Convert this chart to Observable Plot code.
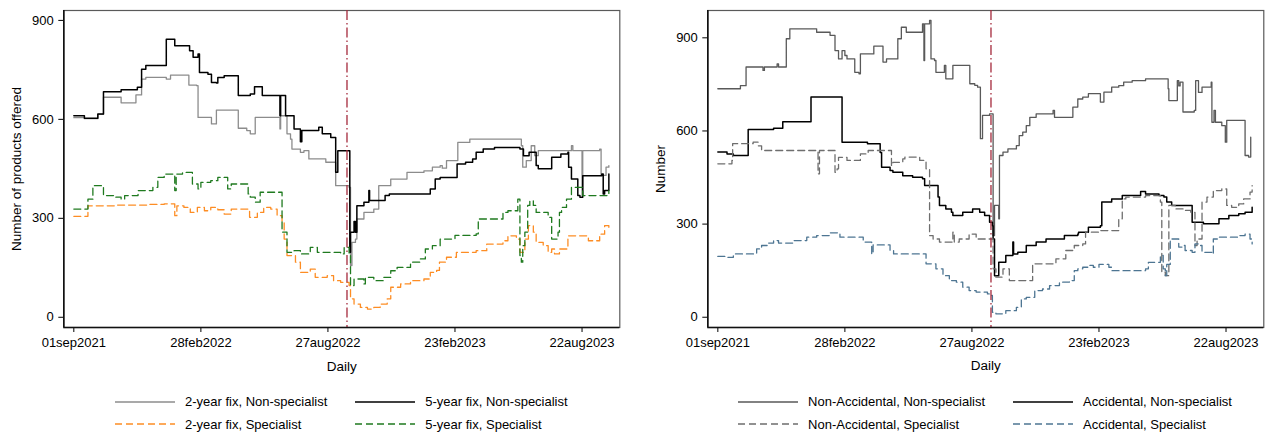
<!DOCTYPE html>
<html>
<head>
<meta charset="utf-8">
<script src="https://cdn.jsdelivr.net/npm/d3@7"></script>
<script src="https://cdn.jsdelivr.net/npm/@observablehq/plot@0.6"></script>
<style>
  html, body { margin: 0; padding: 0; background: #fff; }
  #fig { position: relative; width: 1267px; height: 436px; overflow: hidden;
         font-family: "Liberation Sans", Arial, sans-serif; color: #000; }
  .panel { position: absolute; top: 0; }
  .legend { position: absolute; display: flex; justify-content: center; }
  .legend .grid { display: grid; grid-template-columns: auto auto; column-gap: 28px;
                  grid-auto-rows: 22.5px; align-items: center; }
  .legend .item { display: flex; align-items: center; font-size: 13px; white-space: nowrap; }
  .legend svg { margin-right: 10px; }
</style>
</head>
<body>
<div id="fig"></div>
<script>
// Daily series are stored as [day, value] pairs, where day counts from periodStart.
const periodStart = "2021-09-01";
const eventDate = "2022-09-23";

// Tick marks on both panels
const xTickDates = ["2021-09-01", "2022-02-28", "2022-08-27", "2023-02-23", "2023-08-22"];
const xTickLabels = ["01sep2021", "28feb2022", "27aug2022", "23feb2023", "22aug2023"];
const yTicks = [0, 300, 600, 900];

// ---- Panel 1: products by fixed-rate term and lender type ----
const twoYearNonSpec = [[0,605],[15,602],[34,615],[42,667],[67,650],[88,674],[96,722],[102,727],[131,722],[137,734],[163,704],[174,702],[176,606],[195,586],[202,628],[233,573],[245,566],[250,556],[257,606],[292,571],[293,611],[302,556],[307,540],[309,510],[321,500],[326,505],[333,480],[357,470],[371,399],[390,394],[392,157],[394,227],[399,237],[401,298],[411,318],[425,328],[432,399],[449,419],[472,439],[496,444],[508,455],[519,460],[522,452],[528,475],[544,530],[561,540],[629,540],[634,520],[636,455],[641,475],[648,520],[653,490],[658,505],[677,505],[705,520],[707,505],[720,369],[721,505],[745,510],[747,430],[754,455],[758,460]];

const fiveYearNonSpec = [[0,611],[15,603],[34,616],[42,684],[67,690],[90,697],[96,752],[102,763],[131,843],[143,823],[164,808],[169,788],[176,798],[178,742],[190,737],[195,712],[202,710],[204,727],[213,732],[233,672],[250,677],[256,699],[267,672],[292,611],[293,672],[300,611],[312,571],[321,532],[323,566],[347,576],[352,556],[364,545],[371,440],[374,505],[391,197],[392,258],[397,290],[399,258],[401,338],[411,349],[418,384],[419,354],[441,369],[447,374],[505,389],[512,419],[519,424],[543,465],[555,470],[565,480],[570,500],[580,510],[596,515],[632,510],[637,490],[645,500],[655,460],[658,450],[677,485],[690,495],[700,500],[701,455],[705,419],[714,369],[717,364],[721,429],[748,434],[750,374],[752,384],[758,434]];

const twoYearSpec = [[0,306],[20,338],[58,340],[104,342],[128,344],[143,308],[146,338],[156,333],[165,318],[175,333],[185,323],[194,333],[204,326],[213,313],[223,328],[249,303],[260,318],[269,333],[279,328],[288,308],[295,288],[298,237],[302,187],[314,167],[321,136],[335,146],[342,121],[359,126],[368,111],[378,106],[390,96],[392,56],[397,40],[406,30],[416,25],[425,30],[434,40],[444,56],[449,91],[463,101],[477,111],[496,116],[505,136],[514,142],[518,167],[528,182],[542,197],[570,202],[585,222],[608,232],[615,247],[627,237],[632,197],[639,237],[644,278],[651,258],[655,227],[665,217],[672,197],[677,207],[681,192],[688,207],[700,247],[729,232],[745,252],[752,278],[758,263]];

const fiveYearSpec = [[0,328],[20,358],[27,399],[42,369],[58,364],[67,358],[72,369],[91,384],[112,394],[119,424],[128,434],[143,384],[145,434],[154,439],[168,404],[176,389],[180,409],[194,414],[204,424],[218,389],[223,404],[247,374],[250,364],[257,349],[264,379],[295,258],[302,197],[312,202],[321,192],[335,212],[345,197],[378,192],[383,212],[390,187],[392,96],[397,116],[411,101],[413,121],[425,111],[439,121],[449,141],[458,151],[477,167],[491,177],[498,207],[508,217],[519,237],[540,248],[570,253],[573,298],[608,318],[615,323],[629,358],[632,187],[634,167],[636,217],[639,258],[643,339],[646,353],[651,339],[655,318],[672,303],[677,237],[686,258],[688,318],[691,333],[698,358],[705,394],[721,369],[748,369],[758,384]];

// ---- Panel 2: products by accidental / non-accidental lender and lender type ----
const nonAccNonSpec = [[0,736],[32,746],[40,806],[64,795],[66,806],[84,816],[86,806],[97,897],[102,929],[140,918],[159,908],[166,859],[171,832],[176,859],[180,843],[183,832],[194,789],[200,784],[202,848],[221,873],[234,822],[239,832],[255,897],[260,934],[267,918],[290,945],[292,827],[293,945],[300,956],[302,832],[307,827],[309,789],[321,811],[323,768],[333,811],[357,752],[364,747],[368,741],[372,575],[375,650],[385,655],[390,263],[392,360],[398,317],[399,521],[404,532],[411,542],[423,553],[427,585],[432,596],[437,617],[442,644],[451,655],[475,666],[477,644],[503,677],[510,703],[517,709],[525,720],[542,693],[547,725],[558,741],[568,746],[575,757],[587,762],[606,768],[636,768],[638,736],[639,698],[651,762],[653,745],[655,757],[659,661],[675,666],[677,762],[681,724],[686,741],[699,757],[700,628],[703,666],[705,628],[714,617],[719,564],[721,634],[745,634],[747,521],[752,516],[755,580]];

const accNonSpec = [[0,532],[13,526],[22,521],[43,605],[79,609],[92,630],[132,709],[176,564],[212,559],[230,531],[232,483],[244,473],[248,467],[262,456],[276,451],[290,446],[293,424],[312,387],[314,360],[323,349],[331,338],[333,328],[347,338],[361,349],[371,338],[378,328],[385,306],[389,295],[390,252],[392,134],[398,177],[408,199],[418,242],[419,204],[425,209],[437,231],[451,242],[465,252],[491,263],[510,268],[511,274],[525,290],[542,295],[544,371],[558,381],[573,392],[599,405],[606,397],[625,392],[632,387],[636,371],[643,360],[667,360],[672,306],[688,301],[710,317],[724,328],[738,333],[747,338],[757,354]];

const nonAccSpec = [[0,494],[20,505],[21,559],[50,564],[57,552],[62,537],[140,537],[142,462],[144,537],[166,467],[169,478],[171,515],[183,505],[202,526],[213,537],[246,489],[248,499],[262,510],[265,516],[286,505],[295,478],[300,263],[305,252],[314,242],[333,274],[335,242],[342,252],[356,268],[366,252],[389,252],[390,156],[394,129],[404,156],[413,118],[446,172],[479,188],[493,215],[505,231],[517,236],[521,274],[542,279],[568,317],[573,381],[578,387],[606,392],[627,371],[629,145],[634,134],[639,360],[648,349],[662,344],[670,338],[676,231],[679,252],[686,371],[693,387],[702,408],[714,413],[721,360],[728,354],[738,365],[745,381],[754,403],[757,424]];

const accSpec = [[0,196],[13,193],[22,204],[55,220],[62,231],[72,239],[79,247],[86,239],[107,247],[126,258],[140,263],[159,272],[173,258],[206,242],[218,204],[220,233],[244,215],[249,204],[295,172],[309,156],[319,134],[328,118],[338,113],[347,97],[356,86],[366,81],[382,75],[387,70],[389,16],[394,11],[408,21],[423,32],[430,59],[437,64],[449,86],[460,91],[470,102],[484,113],[498,118],[505,150],[510,156],[517,161],[525,167],[532,161],[540,170],[554,161],[558,150],[606,156],[610,177],[627,199],[631,156],[634,134],[636,170],[641,252],[653,226],[658,231],[662,215],[672,209],[676,236],[683,231],[686,209],[700,204],[702,252],[710,258],[738,263],[747,268],[754,252],[757,236]];

// ---- helpers ----
const parse = d3.utcParse("%Y-%m-%d");
const t0 = parse(periodStart);
const DAY = 864e5;
const atDay = d => new Date(t0.getTime() + d * DAY);
const rows = pairs => pairs.map(([d, v]) => ({date: atDay(d), value: v}));
const tickLabelOf = new Map(xTickDates.map((d, i) => [+parse(d), xTickLabels[i]]));

const SOLID = null, DASH = "7,4";

function panel({series, yDomain, yTitle, width, marginRight}) {
  return Plot.plot({
    width, height: 385,
    marginLeft: 63.3, marginRight, marginTop: 10, marginBottom: 58,
    style: {fontFamily: "'Liberation Sans', Arial, sans-serif", fontSize: "13px", color: "#000", background: "#fff", overflow: "visible"},
    x: {type: "utc", domain: [atDay(-14.2), atDay(773.5)]},
    y: {domain: yDomain},
    marks: [
      Plot.frame({stroke: "#5a5a5a", strokeWidth: 1.2}),
      ...series.map(s => Plot.line(rows(s.data), {
        x: "date", y: "value", curve: "step-after",
        stroke: s.color, strokeWidth: s.width, strokeDasharray: s.dash
      })),
      Plot.ruleX([parse(eventDate)], {stroke: "#a52a3c", strokeWidth: 1.3, strokeDasharray: "10,3,1.5,3"}),
      Plot.axisX(xTickDates.map(parse), {
        tickSize: 5, tickPadding: 5, stroke: "#000",
        tickFormat: d => tickLabelOf.get(+d), label: null
      }),
      Plot.axisY(yTicks, {tickSize: 5, tickPadding: 5, stroke: "#000", label: null}),
      Plot.ruleY([yDomain[0]], {stroke: "#111", strokeWidth: 1.6}),
      Plot.ruleX([atDay(-14.2)], {stroke: "#111", strokeWidth: 1.6}),
      Plot.text(["Daily"], {frameAnchor: "bottom", dy: 43, fontSize: 13.5}),
      Plot.text([yTitle], {frameAnchor: "left", textAnchor: "middle", dx: -47, rotate: -90, fontSize: 13.5})
    ]
  });
}

function legend(items, left, width) {
  const box = document.createElement("div");
  box.className = "legend";
  box.style.left = left + "px";
  box.style.width = width + "px";
  box.style.top = "390.5px";
  const grid = document.createElement("div");
  grid.className = "grid";
  for (const it of items) {
    const el = document.createElement("div");
    el.className = "item";
    el.innerHTML = `<svg width="60" height="10"><line x1="0" x2="60" y1="5" y2="5" stroke="${it.color}" stroke-width="${it.width}" ${it.dash ? `stroke-dasharray="${it.dash}"` : ""}/></svg><span>${it.label}</span>`;
    grid.appendChild(el);
  }
  box.appendChild(grid);
  return box;
}

const leftSeries = [
  {data: twoYearNonSpec, label: "2-year fix, Non-specialist", color: "#8c8c8c", width: 1.3, dash: SOLID},
  {data: fiveYearNonSpec, label: "5-year fix, Non-specialist", color: "#000000", width: 1.5, dash: SOLID},
  {data: twoYearSpec, label: "2-year fix, Specialist", color: "#fd8d24", width: 1.3, dash: DASH},
  {data: fiveYearSpec, label: "5-year fix, Specialist", color: "#1f7a1f", width: 1.3, dash: DASH}
];
const rightSeries = [
  {data: nonAccNonSpec, label: "Non-Accidental, Non-specialist", color: "#595959", width: 1.3, dash: SOLID},
  {data: accNonSpec, label: "Accidental, Non-specialist", color: "#000000", width: 1.5, dash: SOLID},
  {data: nonAccSpec, label: "Non-Accidental, Specialist", color: "#6e6e6e", width: 1.3, dash: DASH},
  {data: accSpec, label: "Accidental, Specialist", color: "#4d7592", width: 1.3, dash: DASH}
];

const fig = document.getElementById("fig");

const p1 = document.createElement("div");
p1.className = "panel"; p1.style.left = "0px";
p1.appendChild(panel({series: leftSeries, yDomain: [-31, 930], yTitle: "Number of products offered", width: 630, marginRight: 10.7}));
fig.appendChild(p1);
fig.appendChild(legend(leftSeries, 63.3, 556));

const p2 = document.createElement("div");
p2.className = "panel"; p2.style.left = "643.7px";
p2.appendChild(panel({series: rightSeries, yDomain: [-33, 988], yTitle: "Number", width: 623.3, marginRight: 4}));
fig.appendChild(p2);
fig.appendChild(legend(rightSeries, 707, 556));
</script>
</body>
</html>
